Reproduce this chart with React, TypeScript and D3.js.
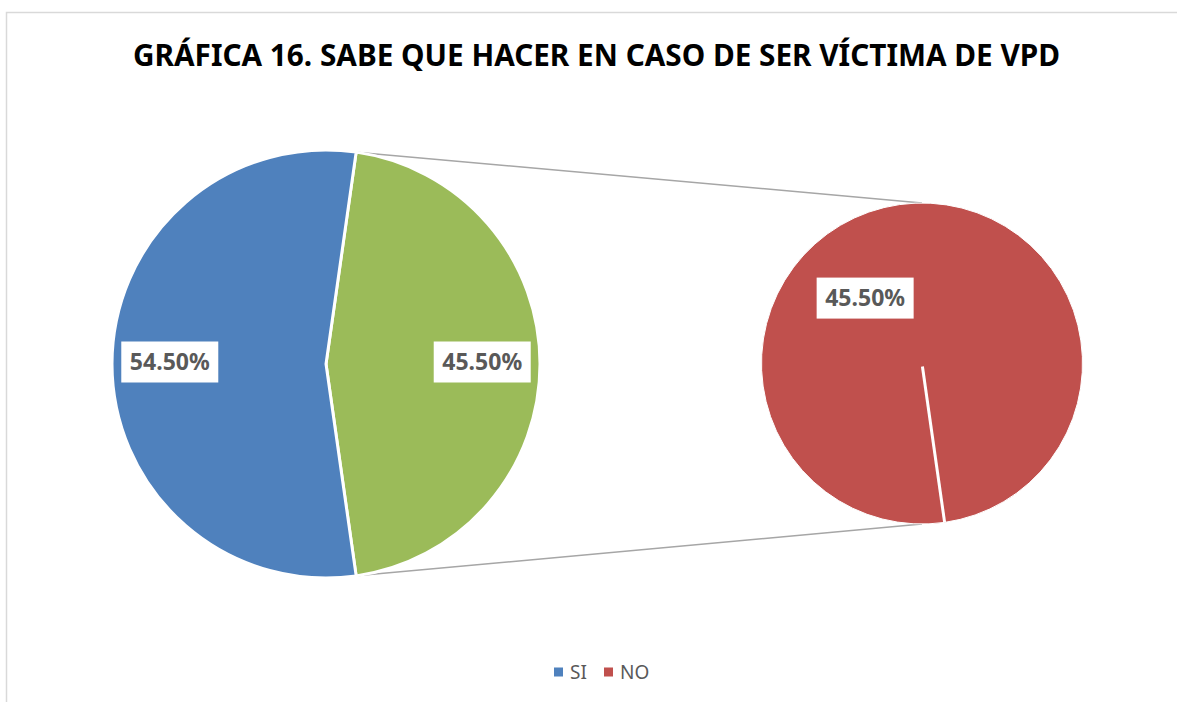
import * as d3 from "d3"

// Chart data
const title = "GRÁFICA 16. SABE QUE HACER EN CASO DE SER VÍCTIMA DE VPD"
const mainLabels = ["NO", "SI"]
const mainValues = [45.5, 54.5]
const mainColors = ["#9bbb59", "#4f81bd"]
const subLabels = ["NO"]
const subValues = [45.5]
const subColors = ["#c0504d"]
const legendLabels = ["SI", "NO"]
const legendColors = ["#4f81bd", "#c0504d"]

const W = 1177
const H = 702
const fmt = (v: number) => v.toFixed(2) + "%"

export default function App() {
  const mainC = { x: 326, y: 364, r: 214 }
  const subC = { x: 922, y: 363.5, r: 160.5 }

  // the "other" slice is centred on the right side of the main pie
  const share = mainValues[0] / d3.sum(mainValues)
  const start = Math.PI / 2 - share * Math.PI
  const mainPie = d3.pie<number>().sort(null).startAngle(start).endAngle(start + 2 * Math.PI)
  const mainArcs = mainPie(mainValues)
  const arc = d3.arc<d3.PieArcDatum<number>>().innerRadius(0).outerRadius(mainC.r)
  const labelArc = d3.arc<d3.PieArcDatum<number>>().innerRadius(mainC.r * 0.73).outerRadius(mainC.r * 0.73)

  const subStart = mainArcs[0].endAngle
  const subPie = d3.pie<number>().sort(null).startAngle(subStart).endAngle(subStart + 2 * Math.PI)
  const subArcs = subPie(subValues)
  const subArc = d3.arc<d3.PieArcDatum<number>>().innerRadius(0).outerRadius(subC.r)

  // connector end points
  const a0 = mainArcs[0].startAngle
  const a1 = mainArcs[0].endAngle
  const p0 = [mainC.x + mainC.r * Math.sin(a0), mainC.y - mainC.r * Math.cos(a0)]
  const p1 = [mainC.x + mainC.r * Math.sin(a1), mainC.y - mainC.r * Math.cos(a1)]

  const subLabelAngle = (319 * Math.PI) / 180
  const subLabelPos = [
    subC.x + subC.r * 0.54 * Math.sin(subLabelAngle),
    subC.y - subC.r * 0.54 * Math.cos(subLabelAngle),
  ]

  const font = "'Noto Sans', 'Open Sans', sans-serif"
  const boxW = 97
  const boxH = 41

  const label = (x: number, y: number, text: string, key: string) => (
    <g key={key} transform={`translate(${x},${y})`}>
      <rect x={-boxW / 2} y={-boxH / 2} width={boxW} height={boxH} fill="#fff" />
      <text
        textAnchor="middle"
        dy="0.36em"
        fontFamily={font}
        fontWeight="bold"
        fontSize={23}
        fill="#595959"
      >
        {text}
      </text>
    </g>
  )

  return (
    <div style={{ position: "absolute", left: 0, top: 0 }}>
      <svg width={W} height={H} style={{ display: "block" }}>
        <rect x={0} y={0} width={W} height={H} fill="#fff" />
        {/* chart border */}
        <path d={`M6.5,${H + 5}V12.5H${W + 5}`} fill="none" stroke="#d9d9d9" strokeWidth={1.5} />

        <text
          x={596.5}
          y={66}
          textAnchor="middle"
          fontFamily={font}
          fontWeight="bold"
          fontSize={31}
          textLength={927}
          lengthAdjust="spacingAndGlyphs"
          fill="#000"
        >
          {title}
        </text>

        {/* connector lines */}
        <line x1={p0[0]} y1={p0[1]} x2={subC.x} y2={subC.y - subC.r} stroke="#a6a6a6" strokeWidth={1.5} />
        <line x1={p1[0]} y1={p1[1]} x2={subC.x} y2={subC.y + subC.r} stroke="#a6a6a6" strokeWidth={1.5} />

        <g transform={`translate(${mainC.x},${mainC.y})`}>
          {mainArcs.map((d, i) => (
            <path key={mainLabels[i]} d={arc(d) || ""} fill={mainColors[i]} stroke="#fff" strokeWidth={3} />
          ))}
        </g>
        <g transform={`translate(${subC.x},${subC.y})`}>
          {subArcs.map((d, i) => (
            <g key={subLabels[i]}>
              <path d={subArc(d) || ""} fill={subColors[i]} stroke="#fff" strokeWidth={1} />
              {/* seam of the single full slice */}
              <line
                x1={3 * Math.sin(d.startAngle)}
                y1={-3 * Math.cos(d.startAngle)}
                x2={subC.r * Math.sin(d.startAngle)}
                y2={-subC.r * Math.cos(d.startAngle)}
                stroke="#fff"
                strokeWidth={3}
              />
            </g>
          ))}
        </g>

        {mainArcs.map((d, i) => {
          const [cx, cy] = labelArc.centroid(d)
          return label(mainC.x + cx, mainC.y + cy - 2, fmt(mainValues[i]), "m" + i)
        })}
        {label(subLabelPos[0], subLabelPos[1], fmt(subValues[0]), "s0")}

        {/* legend */}
        {legendLabels.map((l, i) => {
          const x = 554 + i * 50
          return (
            <g key={l}>
              <rect x={x} y={667.5} width={9} height={9} fill={legendColors[i]} />
              <text x={x + 16} y={679} fontFamily={font} fontSize={19} fill="#595959">
                {l}
              </text>
            </g>
          )
        })}
      </svg>
    </div>
  )
}
